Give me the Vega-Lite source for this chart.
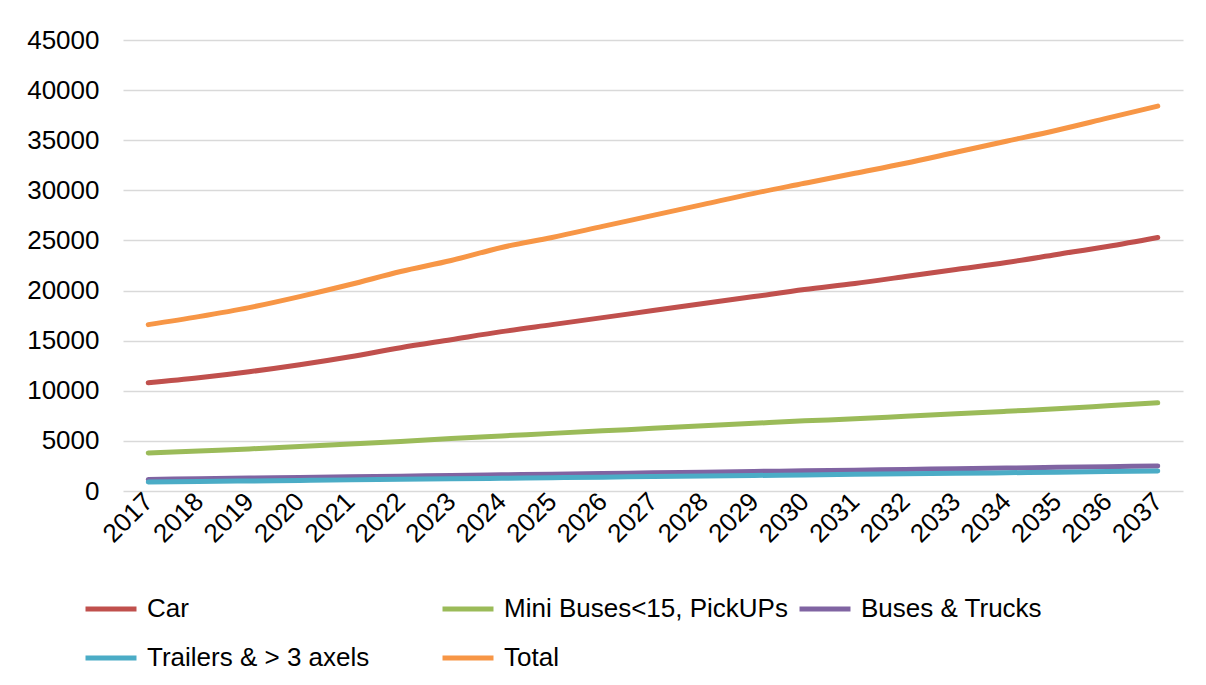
{
  "$schema": "https://vega.github.io/schema/vega-lite/v6.json",
  "autosize": "none",
  "width": 1060,
  "height": 451,
  "padding": {"left": 123, "top": 40, "right": 23, "bottom": 194},
  "background": "white",
  "datasets": {
    "d": [
      {"year": "2017", "series": "Car", "value": 10800},
      {"year": "2018", "series": "Car", "value": 11300},
      {"year": "2019", "series": "Car", "value": 11900},
      {"year": "2020", "series": "Car", "value": 12600},
      {"year": "2021", "series": "Car", "value": 13400},
      {"year": "2022", "series": "Car", "value": 14300},
      {"year": "2023", "series": "Car", "value": 15100},
      {"year": "2024", "series": "Car", "value": 15900},
      {"year": "2025", "series": "Car", "value": 16600},
      {"year": "2026", "series": "Car", "value": 17300},
      {"year": "2027", "series": "Car", "value": 18000},
      {"year": "2028", "series": "Car", "value": 18700},
      {"year": "2029", "series": "Car", "value": 19400},
      {"year": "2030", "series": "Car", "value": 20100},
      {"year": "2031", "series": "Car", "value": 20700},
      {"year": "2032", "series": "Car", "value": 21400},
      {"year": "2033", "series": "Car", "value": 22100},
      {"year": "2034", "series": "Car", "value": 22800},
      {"year": "2035", "series": "Car", "value": 23600},
      {"year": "2036", "series": "Car", "value": 24400},
      {"year": "2037", "series": "Car", "value": 25300},
      {"year": "2017", "series": "Mini Buses<15, PickUPs", "value": 3800},
      {"year": "2018", "series": "Mini Buses<15, PickUPs", "value": 4000},
      {"year": "2019", "series": "Mini Buses<15, PickUPs", "value": 4200},
      {"year": "2020", "series": "Mini Buses<15, PickUPs", "value": 4450},
      {"year": "2021", "series": "Mini Buses<15, PickUPs", "value": 4700},
      {"year": "2022", "series": "Mini Buses<15, PickUPs", "value": 4950},
      {"year": "2023", "series": "Mini Buses<15, PickUPs", "value": 5250},
      {"year": "2024", "series": "Mini Buses<15, PickUPs", "value": 5500},
      {"year": "2025", "series": "Mini Buses<15, PickUPs", "value": 5750},
      {"year": "2026", "series": "Mini Buses<15, PickUPs", "value": 6000},
      {"year": "2027", "series": "Mini Buses<15, PickUPs", "value": 6250},
      {"year": "2028", "series": "Mini Buses<15, PickUPs", "value": 6500},
      {"year": "2029", "series": "Mini Buses<15, PickUPs", "value": 6750},
      {"year": "2030", "series": "Mini Buses<15, PickUPs", "value": 7000},
      {"year": "2031", "series": "Mini Buses<15, PickUPs", "value": 7200},
      {"year": "2032", "series": "Mini Buses<15, PickUPs", "value": 7450},
      {"year": "2033", "series": "Mini Buses<15, PickUPs", "value": 7700},
      {"year": "2034", "series": "Mini Buses<15, PickUPs", "value": 7950},
      {"year": "2035", "series": "Mini Buses<15, PickUPs", "value": 8200},
      {"year": "2036", "series": "Mini Buses<15, PickUPs", "value": 8500},
      {"year": "2037", "series": "Mini Buses<15, PickUPs", "value": 8800},
      {"year": "2017", "series": "Buses & Trucks", "value": 1150},
      {"year": "2018", "series": "Buses & Trucks", "value": 1220},
      {"year": "2019", "series": "Buses & Trucks", "value": 1290},
      {"year": "2020", "series": "Buses & Trucks", "value": 1350},
      {"year": "2021", "series": "Buses & Trucks", "value": 1420},
      {"year": "2022", "series": "Buses & Trucks", "value": 1480},
      {"year": "2023", "series": "Buses & Trucks", "value": 1550},
      {"year": "2024", "series": "Buses & Trucks", "value": 1610},
      {"year": "2025", "series": "Buses & Trucks", "value": 1680},
      {"year": "2026", "series": "Buses & Trucks", "value": 1750},
      {"year": "2027", "series": "Buses & Trucks", "value": 1810},
      {"year": "2028", "series": "Buses & Trucks", "value": 1880},
      {"year": "2029", "series": "Buses & Trucks", "value": 1950},
      {"year": "2030", "series": "Buses & Trucks", "value": 2010},
      {"year": "2031", "series": "Buses & Trucks", "value": 2080},
      {"year": "2032", "series": "Buses & Trucks", "value": 2150},
      {"year": "2033", "series": "Buses & Trucks", "value": 2220},
      {"year": "2034", "series": "Buses & Trucks", "value": 2290},
      {"year": "2035", "series": "Buses & Trucks", "value": 2360},
      {"year": "2036", "series": "Buses & Trucks", "value": 2430},
      {"year": "2037", "series": "Buses & Trucks", "value": 2500},
      {"year": "2017", "series": "Trailers & > 3 axels", "value": 900},
      {"year": "2018", "series": "Trailers & > 3 axels", "value": 950},
      {"year": "2019", "series": "Trailers & > 3 axels", "value": 1000},
      {"year": "2020", "series": "Trailers & > 3 axels", "value": 1060},
      {"year": "2021", "series": "Trailers & > 3 axels", "value": 1110},
      {"year": "2022", "series": "Trailers & > 3 axels", "value": 1160},
      {"year": "2023", "series": "Trailers & > 3 axels", "value": 1220},
      {"year": "2024", "series": "Trailers & > 3 axels", "value": 1270},
      {"year": "2025", "series": "Trailers & > 3 axels", "value": 1330},
      {"year": "2026", "series": "Trailers & > 3 axels", "value": 1380},
      {"year": "2027", "series": "Trailers & > 3 axels", "value": 1440},
      {"year": "2028", "series": "Trailers & > 3 axels", "value": 1490},
      {"year": "2029", "series": "Trailers & > 3 axels", "value": 1550},
      {"year": "2030", "series": "Trailers & > 3 axels", "value": 1600},
      {"year": "2031", "series": "Trailers & > 3 axels", "value": 1660},
      {"year": "2032", "series": "Trailers & > 3 axels", "value": 1710},
      {"year": "2033", "series": "Trailers & > 3 axels", "value": 1770},
      {"year": "2034", "series": "Trailers & > 3 axels", "value": 1820},
      {"year": "2035", "series": "Trailers & > 3 axels", "value": 1880},
      {"year": "2036", "series": "Trailers & > 3 axels", "value": 1940},
      {"year": "2037", "series": "Trailers & > 3 axels", "value": 2000},
      {"year": "2017", "series": "Total", "value": 16600},
      {"year": "2018", "series": "Total", "value": 17400},
      {"year": "2019", "series": "Total", "value": 18300},
      {"year": "2020", "series": "Total", "value": 19400},
      {"year": "2021", "series": "Total", "value": 20600},
      {"year": "2022", "series": "Total", "value": 21900},
      {"year": "2023", "series": "Total", "value": 23000},
      {"year": "2024", "series": "Total", "value": 24300},
      {"year": "2025", "series": "Total", "value": 25300},
      {"year": "2026", "series": "Total", "value": 26400},
      {"year": "2027", "series": "Total", "value": 27500},
      {"year": "2028", "series": "Total", "value": 28600},
      {"year": "2029", "series": "Total", "value": 29700},
      {"year": "2030", "series": "Total", "value": 30700},
      {"year": "2031", "series": "Total", "value": 31700},
      {"year": "2032", "series": "Total", "value": 32700},
      {"year": "2033", "series": "Total", "value": 33800},
      {"year": "2034", "series": "Total", "value": 34900},
      {"year": "2035", "series": "Total", "value": 36000},
      {"year": "2036", "series": "Total", "value": 37200},
      {"year": "2037", "series": "Total", "value": 38400}
    ]
  },
  "data": {"name": "d"},
  "mark": {"type": "line", "strokeWidth": 5, "strokeCap": "round", "interpolate": "monotone"},
  "encoding": {
    "x": {
      "field": "year", "type": "ordinal",
      "scale": {"type": "point", "padding": 0.5},
      "axis": {"title": null, "labelAngle": -45, "labelAlign": "right", "labelBaseline": "middle", "labelPadding": 6, "ticks": false, "domain": false, "grid": false, "labelFontSize": 26, "labelColor": "#000000", "labelFont": "Liberation Sans"}
    },
    "y": {
      "field": "value", "type": "quantitative",
      "scale": {"domain": [0, 45000], "nice": false},
      "axis": {"title": null, "values": [0,5000,10000,15000,20000,25000,30000,35000,40000,45000], "format": "d", "ticks": false, "domain": false, "grid": true, "gridColor": "#D9D9D9", "gridWidth": 1.5, "labelPadding": 24, "labelFontSize": 26, "labelColor": "#000000", "labelFont": "Liberation Sans"}
    },
    "color": {
      "field": "series", "type": "nominal",
      "sort": ["Car", "Mini Buses<15, PickUPs", "Buses & Trucks", "Trailers & > 3 axels", "Total"],
      "scale": {"domain": ["Car", "Mini Buses<15, PickUPs", "Buses & Trucks", "Trailers & > 3 axels", "Total"], "range": ["#C0504D", "#9BBB59", "#8064A2", "#4BACC6", "#F79646"]},
      "legend": {
        "title": null, "orient": "none", "legendX": -40, "legendY": 541, "direction": "horizontal",
        "columns": 3, "gridAlign": "all", "columnPadding": 1, "rowPadding": 8,
        "symbolType": "stroke", "symbolSize": 2600, "symbolStrokeWidth": 5,
        "labelFontSize": 26, "labelFont": "Liberation Sans", "labelColor": "#000000", "labelOffset": 8, "labelLimit": 400
      }
    }
  },
  "config": {"view": {"stroke": null}}
}
